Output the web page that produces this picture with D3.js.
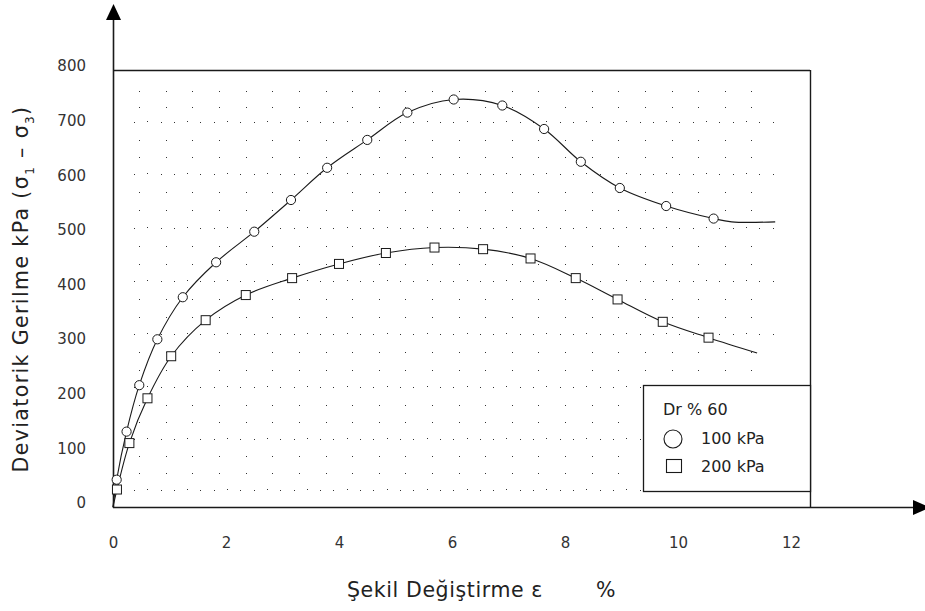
<!DOCTYPE html>
<html><head><meta charset="utf-8">
<script src="https://cdn.jsdelivr.net/npm/d3@7"></script>
<style>body{margin:0;background:#fff}svg{display:block}</style>
</head><body>
<svg id="c" width="925" height="611"></svg>
<script>
// ---- data ----
const strain100 = [0.065,0.24,0.465,0.785,1.235,1.825,2.50,3.15,3.79,4.50,5.21,6.03,6.89,7.63,8.28,8.97,9.79,10.63];
const stress100 = [50,138,223,307,384,448,504,562,621,672,722,746,735,692,632,584,551,528];
const tailStrain100 = [10.95,11.72];
const tailStress100 = [522,522];
const strain200 = [0.07,0.29,0.61,1.03,1.64,2.35,3.17,4.00,4.83,5.69,6.55,7.39,8.19,8.93,9.73,10.54];
const stress200 = [32,117,199,276,342,388,419,445,465,475,472,455,419,380,339,310];
const tailStrain200 = [11.40];
const tailStress200 = [282];
const xTicks = [0,2,4,6,8,10,12];
const yTicks = [0,100,200,300,400,500,600,700,800];
const legendTitle = "Dr % 60";
const seriesLabels = ["100 kPa","200 kPa"];
const xTitle = "Şekil Değiştirme ε";
const xTitleUnit = "%";
// dotted background rows (stress units)
const denseRows = [32,124,219,316,413,510,609,705];
const sparseRows = [62,93,155,187,250,283,347,380,445,478,543,576,640,672,733,762];

const svg = d3.select("#c");
const x = d3.scaleLinear().domain([0,12.336]).range([113,810]);
const y = d3.scaleLinear().domain([0,800]).range([507,70]);
const ink = "#1a1a1a";
const font = "'DejaVu Sans', Verdana, sans-serif";

// ---- dot grid ----
const cols = d3.range(24).map(k => 0.465 + 0.471*k);
const dotsG = svg.append("g").attr("fill","#333");
sparseRows.forEach(r => {
  cols.forEach(c => {
    dotsG.append("rect").attr("x", Math.round(x(c))).attr("y", Math.round(y(r)))
      .attr("width",1).attr("height",1);
  });
});
const denseCols = d3.range(50).map(k => 0.37 + 0.2355*k).filter(v => v < 11.8);
denseRows.forEach(r => {
  denseCols.forEach((c,i) => {
    dotsG.append("rect").attr("x", Math.round(x(c))).attr("y", Math.round(y(r)) + (i%3===1 ? -1 : 0))
      .attr("width",1).attr("height",1);
  });
});

// ---- frame and axes ----
const x0 = x(0), y0 = y(0), xm = x(x.domain()[1]), ym = y(800);
svg.append("line").attr("x1",x0).attr("x2",xm).attr("y1",ym+0.5).attr("y2",ym+0.5)
  .attr("stroke",ink).attr("stroke-width",1.4);
svg.append("line").attr("x1",xm+0.5).attr("x2",xm+0.5).attr("y1",ym).attr("y2",y0)
  .attr("stroke",ink).attr("stroke-width",1.4);
svg.append("line").attr("x1",x0+0.5).attr("x2",x0+0.5).attr("y1",y0+1).attr("y2",18)
  .attr("stroke",ink).attr("stroke-width",1.6);
svg.append("path").attr("d",`M${x0+0.5-7.5},20 L${x0+0.5},4 L${x0+0.5+7.5},20 Z`).attr("fill","#000");
svg.append("line").attr("x1",x0).attr("x2",915).attr("y1",y0+0.5).attr("y2",y0+0.5)
  .attr("stroke",ink).attr("stroke-width",1.6);
svg.append("path").attr("d",`M913,${y0+0.5-7.5} L930,${y0+0.5} L913,${y0+0.5+7.5} Z`).attr("fill","#000");

// tick labels via d3 axes (no tick lines)
const gx = svg.append("g").attr("transform",`translate(0,${y0})`)
  .call(d3.axisBottom(x).tickValues(xTicks).tickFormat(d3.format("d")).tickSize(0).tickPadding(30));
gx.select(".domain").remove();
gx.selectAll("text").attr("font-family",font).attr("font-size",15).attr("fill","#333");
const gy = svg.append("g").attr("transform",`translate(${x0},-4)`)
  .call(d3.axisLeft(y).tickValues(yTicks).tickFormat(d3.format("d")).tickSize(0).tickPadding(27));
gy.select(".domain").remove();
gy.selectAll("text").attr("font-family",font).attr("font-size",15).attr("fill","#333");

// ---- axis titles ----
const xt = svg.append("text").attr("x",347).attr("y",597).attr("font-family",font)
  .attr("font-size",20.5).attr("fill","#222").attr("letter-spacing",0.6);
xt.append("tspan").text(xTitle);
xt.append("tspan").attr("x",596).text(xTitleUnit);

const yt = svg.append("text").attr("transform","translate(28,289) rotate(-90)")
  .attr("text-anchor","middle").attr("font-family",font).attr("font-size",20.5).attr("fill","#222")
  .attr("letter-spacing",1.4);
yt.append("tspan").text("Deviatorik Gerilme kPa (σ");
yt.append("tspan").attr("font-size",12).attr("dy",6).text("1");
yt.append("tspan").attr("dy",-6).text(" – σ");
yt.append("tspan").attr("font-size",12).attr("dy",6).text("3");
yt.append("tspan").attr("dy",-6).text(")");

// ---- legend box ----
const lg = svg.append("g");
lg.append("rect").attr("x",643.5).attr("y",385.5).attr("width",xm-643).attr("height",106)
  .attr("fill","#fff").attr("stroke",ink).attr("stroke-width",1.3);
lg.append("text").attr("x",663).attr("y",415).attr("font-family",font).attr("font-size",16)
  .attr("fill","#222").text(legendTitle);
lg.append("path").attr("d", d3.symbol().type(d3.symbolCircle).size(Math.PI*81)())
  .attr("transform","translate(673,439)").attr("fill","#fff").attr("stroke",ink).attr("stroke-width",1.1);
lg.append("rect").attr("x",666.5).attr("y",459.5).attr("width",15).attr("height",13)
  .attr("fill","#fff").attr("stroke",ink).attr("stroke-width",1.1);
lg.selectAll("text.lab").data(seriesLabels).enter().append("text").attr("class","lab")
  .attr("x",701).attr("y",(d,i)=>444+i*28).attr("font-family",font).attr("font-size",16)
  .attr("fill","#222").text(d=>d);

// ---- curves ----
const line = d3.line().x(d=>x(d[0])).y(d=>y(d[1])).curve(d3.curveCatmullRom.alpha(0.5));
const pts100 = [[0,0]].concat(strain100.map((s,i)=>[s,stress100[i]]), tailStrain100.map((s,i)=>[s,tailStress100[i]]));
const pts200 = [[0,0]].concat(strain200.map((s,i)=>[s,stress200[i]]), tailStrain200.map((s,i)=>[s,tailStress200[i]]));
svg.append("path").attr("d",line(pts200)).attr("fill","none").attr("stroke",ink).attr("stroke-width",1.1);
svg.append("path").attr("d",line(pts100)).attr("fill","none").attr("stroke",ink).attr("stroke-width",1.1);

// ---- markers ----
svg.append("g").selectAll("rect").data(strain200.map((s,i)=>[s,stress200[i]])).enter().append("rect")
  .attr("x",d=>x(d[0])-4.5).attr("y",d=>y(d[1])-4.5).attr("width",9).attr("height",9)
  .attr("fill","#fff").attr("stroke",ink).attr("stroke-width",1);
svg.append("g").selectAll("circle").data(strain100.map((s,i)=>[s,stress100[i]])).enter().append("circle")
  .attr("cx",d=>x(d[0])).attr("cy",d=>y(d[1])).attr("r",4.6)
  .attr("fill","#fff").attr("stroke",ink).attr("stroke-width",1);
</script>
</body></html>
